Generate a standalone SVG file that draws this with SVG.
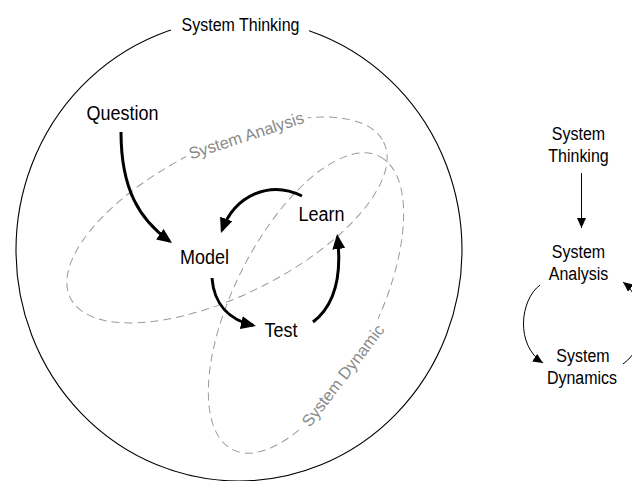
<svg xmlns="http://www.w3.org/2000/svg" width="632" height="481" viewBox="0 0 632 481">
  <style>
    text { font-family: "Liberation Sans", Arial, Helvetica, sans-serif; fill: #000; text-anchor: middle; }
    .big { font-size: 18px; }
    .mid { font-size: 16px; }
    .grey { font-size: 16.5px; fill: #8a8a8a; }
    .outline { fill: none; stroke: #000; stroke-width: 1.1; }
    .dash { fill: none; stroke: #9a9a9a; stroke-width: 1; stroke-dasharray: 8 5; }
    .flow { fill: none; stroke: #000; stroke-width: 3; }
    .thin { fill: none; stroke: #000; stroke-width: 1; }
    .mask { fill: #fff; stroke: none; }
  </style>
  <defs>
    <marker id="headBold" markerUnits="userSpaceOnUse" markerWidth="15" markerHeight="13" refX="12" refY="6.5" orient="auto">
      <path d="M0,0 L15,6.5 L0,13 z" fill="#000"/>
    </marker>
    <marker id="headThin" markerUnits="userSpaceOnUse" markerWidth="10" markerHeight="9" refX="10" refY="4.5" orient="auto">
      <path d="M0,0 L10,4.5 L0,9 z" fill="#000"/>
    </marker>
  </defs>

  <rect width="632" height="481" fill="#fff"/>

  <!-- outer boundary: System Thinking -->
  <g id="system-thinking">
    <ellipse class="outline" cx="239" cy="250" rx="223" ry="231"/>
    <rect class="mask" x="171" y="12" width="138" height="26"/>
    <text class="mid" transform="translate(240.5 31) scale(1 1.1)">System Thinking</text>
  </g>

  <!-- dashed overlapping regions -->
  <g id="system-analysis">
    <ellipse class="dash" cx="227" cy="220" rx="175" ry="75" transform="rotate(-26.5 227 220)"/>
    <g transform="rotate(-18 248 141)">
      <rect class="mask" x="184" y="125" width="128" height="21"/>
      <text class="grey" x="248" y="141">System Analysis</text>
    </g>
  </g>

  <g id="system-dynamic">
    <ellipse class="dash" cx="306" cy="303" rx="164" ry="72" transform="rotate(-63.4 306 303)"/>
    <g transform="rotate(-52.5 347.5 379)">
      <rect class="mask" x="281" y="363" width="133" height="21"/>
      <text class="grey" x="347.5" y="379">System Dynamic</text>
    </g>
  </g>

  <!-- cycle nodes -->
  <g id="question"><text class="big" transform="translate(122.5 119.5) scale(1 1.1)">Question</text></g>
  <g id="model"><text class="big" transform="translate(204.5 264) scale(1 1.1)">Model</text></g>
  <g id="learn"><text class="big" transform="translate(321.5 221) scale(1 1.1)">Learn</text></g>
  <g id="test"><text class="big" transform="translate(281 337) scale(1 1.1)">Test</text></g>

  <!-- side summary nodes -->
  <g id="summary-thinking">
    <text class="mid" transform="translate(578.5 140) scale(1 1.1)">System</text>
    <text class="mid" transform="translate(578.5 162) scale(1 1.1)">Thinking</text>
  </g>
  <g id="summary-analysis">
    <text class="mid" transform="translate(578.5 258) scale(1 1.1)">System</text>
    <text class="mid" transform="translate(578.5 280) scale(1 1.1)">Analysis</text>
  </g>
  <g id="summary-dynamics">
    <text class="mid" transform="translate(583 362) scale(1 1.1)">System</text>
    <text class="mid" transform="translate(582 384) scale(1 1.1)">Dynamics</text>
  </g>

  <!-- connectors -->
  <g id="connectors">
    <path class="flow" d="M121,132 C121,190 140,220 169.6,241.2" marker-end="url(#headBold)"/>
    <path class="flow" d="M302,196 C270,180 235,195 222,230.2" marker-end="url(#headBold)"/>
    <path class="flow" d="M212,278 C214,305 230,320 253,325.3" marker-end="url(#headBold)"/>
    <path class="flow" d="M313,322 C335,305 342,275 337.4,237" marker-end="url(#headBold)"/>

    <line class="thin" x1="581.5" y1="173" x2="581.5" y2="228" marker-end="url(#headThin)"/>
    <path class="thin" d="M540,285 C520,300 515,345 543,363" marker-end="url(#headThin)"/>
    <path class="thin" d="M623,364 C650,345 646,300 623,282" marker-end="url(#headThin)"/>
  </g>
</svg>
